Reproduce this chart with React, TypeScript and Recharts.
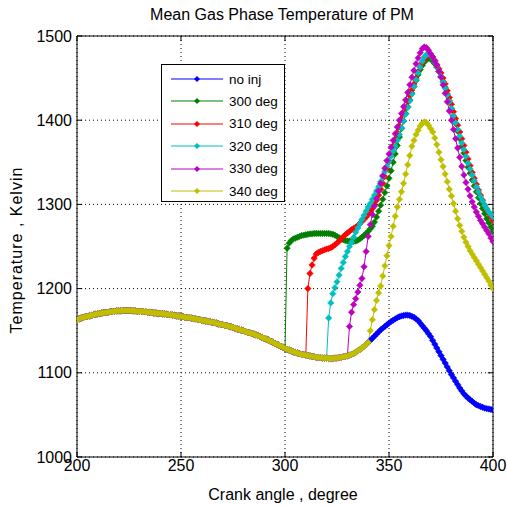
import React from 'react';
import { LineChart, Line, XAxis, YAxis, CartesianGrid, ReferenceLine } from 'recharts';

// crank angle grid, 1 degree step (200..400)
const angles: number[] = Array.from({ length: 201 }, (_, i) => 200 + i);
const xTicks = [200, 250, 300, 350, 400];
const yTicks = [1000, 1100, 1200, 1300, 1400, 1500];

// no injection, 200..400
const noInj = [
  1163, 1164, 1165, 1165.5, 1166.5, 1167, 1167.5, 1168, 1169, 1169.5,
  1170, 1170.5, 1171, 1171.5, 1171.5, 1172, 1172.5, 1173, 1173, 1173.5,
  1173.5, 1173.5, 1174, 1174, 1174, 1174, 1174, 1173.5, 1173.5, 1173,
  1173, 1173, 1172.5, 1172.5, 1172, 1172, 1171.5, 1171, 1171, 1170.5,
  1170.5, 1170, 1170, 1169.5, 1169, 1169, 1168.5, 1168, 1167.5, 1167.5,
  1167, 1166.5, 1166, 1165.5, 1165.5, 1165, 1164.5, 1164, 1163.5, 1163,
  1162.5, 1162, 1161.5, 1161, 1160.5, 1160, 1159.5, 1159, 1158, 1157.5,
  1157, 1156.5, 1156, 1155, 1154.5, 1154, 1153, 1152, 1151.5, 1150.5,
  1150, 1149, 1148, 1147.5, 1146.5, 1146, 1145, 1144, 1143, 1142,
  1141, 1140, 1139, 1137.5, 1136.5, 1135, 1134, 1133, 1131.5, 1130.5,
  1129, 1128, 1127, 1126, 1125, 1124, 1123.5, 1122.5, 1122, 1121.5,
  1121, 1120.5, 1120, 1119.5, 1119, 1118.5, 1118, 1118, 1117.5, 1117.5,
  1117.5, 1117, 1117, 1117, 1117.5, 1117.5, 1118, 1118.5, 1119, 1119.5,
  1120, 1121, 1122, 1123, 1124.5, 1126, 1127.5, 1129.5, 1131.5, 1133.5,
  1136, 1138.5, 1141, 1143.5, 1146, 1148.5, 1151, 1153, 1155, 1157,
  1159, 1161, 1162.5, 1164, 1165.5, 1166.5, 1167.5, 1168, 1168.5, 1168.5,
  1168, 1167, 1166, 1164, 1162, 1159, 1156, 1153, 1150, 1146.5,
  1143, 1138.5, 1134, 1129.5, 1125, 1120.5, 1116, 1111.5, 1107, 1102.5,
  1098, 1094, 1090, 1086, 1082, 1078.5, 1075, 1072.5, 1070, 1068,
  1066, 1064, 1062, 1061, 1060, 1059, 1058, 1057.5, 1057, 1056.5,
  1056,
];

// injection cases, values from the degree after injection to 400
const inj300 = [
  1248, 1254, 1257, 1259, 1260, 1261, 1262, 1263, 1263.5, 1264,
  1264.5, 1265, 1265, 1265.5, 1265.5, 1265.5, 1265.5, 1265.5, 1265.5, 1265.5,
  1265.5, 1265, 1264.5, 1263.5, 1262, 1260.5, 1259, 1258, 1257, 1256.5,
  1256.5, 1256, 1256, 1256.5, 1257.5, 1259, 1261, 1263, 1265.5, 1268,
  1271, 1274, 1279, 1285, 1292, 1299, 1306, 1314, 1322, 1331,
  1340, 1350, 1360, 1370, 1380, 1390, 1399, 1408, 1416, 1424,
  1432, 1440, 1447, 1454, 1460, 1465, 1469, 1472, 1473.5, 1473,
  1470, 1467, 1463, 1458, 1452, 1446, 1439, 1431, 1423, 1414,
  1405, 1396, 1387, 1378, 1369, 1361, 1352, 1344, 1337, 1329,
  1322, 1315, 1308, 1301, 1295, 1289, 1283, 1278, 1273, 1268,
];
const inj310 = [
  1200, 1218, 1228, 1236, 1241, 1243, 1244, 1245, 1246, 1247,
  1247.5, 1248.5, 1250, 1252, 1254, 1256.5, 1259, 1261.5, 1264, 1266,
  1268, 1270, 1271.5, 1273, 1275, 1277.5, 1280, 1282.5, 1285, 1288,
  1291, 1295, 1300, 1305, 1311, 1318, 1325, 1333, 1342, 1351,
  1360, 1369, 1377, 1385, 1393, 1401, 1408, 1415, 1422, 1429,
  1436, 1443, 1450, 1457, 1463, 1468, 1472, 1475, 1477, 1477,
  1475, 1471, 1466, 1461, 1456, 1450, 1443, 1435, 1427, 1419,
  1410, 1402, 1394, 1386, 1378, 1370, 1362, 1354, 1346, 1338,
  1331, 1324, 1317, 1311, 1305, 1299, 1294, 1289, 1285, 1281,
];
const inj320 = [
  1165, 1183, 1194, 1201, 1208, 1216, 1224, 1231, 1238, 1244,
  1250, 1255, 1261, 1267, 1272, 1277, 1282, 1287, 1292, 1297,
  1301, 1306, 1311, 1316, 1321, 1327, 1333, 1339, 1345, 1351,
  1357, 1363, 1369, 1376, 1383, 1391, 1399, 1407, 1415, 1423,
  1431, 1440, 1448, 1456, 1463, 1470, 1475, 1478, 1479, 1477,
  1474, 1469, 1464, 1458, 1452, 1445, 1438, 1430, 1422, 1414,
  1405, 1397, 1389, 1381, 1373, 1365, 1357, 1349, 1342, 1335,
  1328, 1321, 1315, 1309, 1304, 1299, 1295, 1291, 1288, 1285,
];
const inj330 = [
  1155, 1172, 1181, 1188, 1196, 1204, 1212, 1226, 1244, 1262,
  1276, 1288, 1298, 1307, 1316, 1325, 1334, 1343, 1352, 1360,
  1368, 1376, 1384, 1392, 1400, 1408, 1416, 1424, 1433, 1442,
  1451, 1459, 1467, 1474, 1480, 1485, 1487, 1486, 1483, 1479,
  1475, 1470, 1465, 1458, 1451, 1442, 1432, 1422, 1411, 1400,
  1389, 1378, 1367, 1356, 1345, 1335, 1326, 1318, 1310, 1303,
  1297, 1291, 1286, 1281, 1277, 1273, 1269, 1265, 1260, 1256,
];
const inj340 = [
  1150, 1163, 1175, 1186, 1195, 1203, 1215, 1227, 1239, 1251,
  1262, 1274, 1286, 1297, 1306, 1315, 1325, 1336, 1347, 1358,
  1369, 1376, 1383, 1388, 1393, 1396, 1398, 1397, 1394, 1390,
  1386, 1379, 1371, 1362, 1353, 1345, 1336, 1327, 1318, 1310,
  1301, 1292, 1283, 1275, 1268, 1261, 1255, 1250, 1245, 1241,
  1237, 1233, 1229, 1225, 1221, 1217, 1213, 1209, 1204, 1200,
];

interface Series {
  key: string;
  name: string;
  color: string;
  start: number; // first angle of the series' own values
  values: number[];
}

const series: Series[] = [
  { key: 'noInj', name: 'no inj', color: '#0000ff', start: 200, values: noInj },
  { key: 'd300', name: '300 deg', color: '#008000', start: 301, values: inj300 },
  { key: 'd310', name: '310 deg', color: '#ff0000', start: 311, values: inj310 },
  { key: 'd320', name: '320 deg', color: '#00bfbf', start: 321, values: inj320 },
  { key: 'd330', name: '330 deg', color: '#bf00bf', start: 331, values: inj330 },
  { key: 'd340', name: '340 deg', color: '#bfbf00', start: 341, values: inj340 },
];

// before injection every case follows the no-injection curve
const data = angles.map((a, i) => {
  const row: Record<string, number> = { angle: a };
  series.forEach((s) => {
    row[s.key] = a < s.start ? noInj[i] : s.values[a - s.start];
  });
  return row;
});

const FONT = '"Liberation Sans", Arial, Helvetica, sans-serif';

const diamondDot = (color: string, id: string) => (p: any) => {
  const { cx, cy, index } = p;
  if (cx == null || cy == null) return <g key={`${id}-${index}`} />;
  const r = 3.2;
  return (
    <path
      key={`${id}-${index}`}
      d={`M${cx},${cy - r}L${cx + r},${cy}L${cx},${cy + r}L${cx - r},${cy}Z`}
      fill={color}
      stroke={color}
      strokeWidth={0.6}
    />
  );
};

const MiniMarker = ({ color }: { color: string }) => (
  <svg width={54} height={8} style={{ display: 'block' }}>
    <line x1={0} y1={4} x2={52} y2={4} stroke={color} strokeWidth={1.2} />
    <path d="M26,1 L29,4 L26,7 L23,4 Z" fill={color} />
  </svg>
);

export default function App() {
  return (
    <div style={{ position: 'absolute', left: 0, top: 0, width: 507, height: 506, background: '#fff', fontFamily: FONT }}>
      <LineChart
        width={507}
        height={506}
        data={data}
        margin={{ top: 36, right: 14, bottom: 19, left: 17 }}
      >
        <CartesianGrid stroke="#000" strokeDasharray="1 3" strokeWidth={1} />
        <XAxis
          dataKey="angle"
          type="number"
          domain={[200, 400]}
          ticks={xTicks}
          height={30}
          tickSize={0}
          tickMargin={3}
          axisLine={{ stroke: '#000' }}
          tick={{ fill: '#000', fontSize: 16, fontFamily: FONT }}
          allowDataOverflow
        />
        <YAxis
          type="number"
          domain={[1000, 1500]}
          ticks={yTicks}
          width={60}
          tickSize={0}
          tickMargin={5}
          axisLine={{ stroke: '#000' }}
          tick={{ fill: '#000', fontSize: 16, fontFamily: FONT }}
          allowDataOverflow
        />
        <ReferenceLine y={1500} stroke="#000" />
        <ReferenceLine x={400} stroke="#000" />
        {xTicks.map((t) => (
          <ReferenceLine key={`xb${t}`} segment={[{ x: t, y: 1000 }, { x: t, y: 1006 }]} stroke="#000" />
        ))}
        {xTicks.map((t) => (
          <ReferenceLine key={`xt${t}`} segment={[{ x: t, y: 1500 }, { x: t, y: 1494 }]} stroke="#000" />
        ))}
        {yTicks.map((t) => (
          <ReferenceLine key={`yl${t}`} segment={[{ x: 200, y: t }, { x: 202.5, y: t }]} stroke="#000" />
        ))}
        {yTicks.map((t) => (
          <ReferenceLine key={`yr${t}`} segment={[{ x: 400, y: t }, { x: 397.5, y: t }]} stroke="#000" />
        ))}
        {series.map((s) => (
          <Line
            key={s.key}
            dataKey={s.key}
            name={s.name}
            type="linear"
            stroke={s.color}
            strokeWidth={1}
            dot={diamondDot(s.color, s.key)}
            activeDot={false}
            isAnimationActive={false}
          />
        ))}
      </LineChart>

      <div style={{ position: 'absolute', left: 74, top: 6, width: 416, textAlign: 'center', fontSize: 16, lineHeight: '18px', color: '#000' }}>
        Mean Gas Phase Temperature of PM
      </div>
      <div style={{ position: 'absolute', left: 77, top: 486, width: 412, textAlign: 'center', fontSize: 16, lineHeight: '18px', color: '#000' }}>
        Crank angle , degree
      </div>
      <div
        style={{
          position: 'absolute', left: 17, top: 250, width: 0, height: 0,
        }}
      >
        <div
          style={{
            position: 'absolute', left: -110, top: -9, width: 220, textAlign: 'center',
            fontSize: 16, lineHeight: '18px', letterSpacing: 1, transform: 'rotate(-90deg)', color: '#000',
          }}
        >
          Temperature , Kelvin
        </div>
      </div>

      <div
        style={{
          position: 'absolute', left: 161, top: 64, width: 122, height: 136,
          border: '1px solid #000', background: '#fff', boxSizing: 'content-box',
        }}
      >
        {series.map((s, i) => (
          <div
            key={s.key}
            style={{ position: 'absolute', left: 9, top: 14 + i * 22.4 - 9, height: 18, display: 'flex', alignItems: 'center' }}
          >
            <MiniMarker color={s.color} />
            <span style={{ fontSize: 13.5, marginLeft: 4, color: '#000', whiteSpace: 'nowrap' }}>{s.name}</span>
          </div>
        ))}
      </div>
    </div>
  );
}
